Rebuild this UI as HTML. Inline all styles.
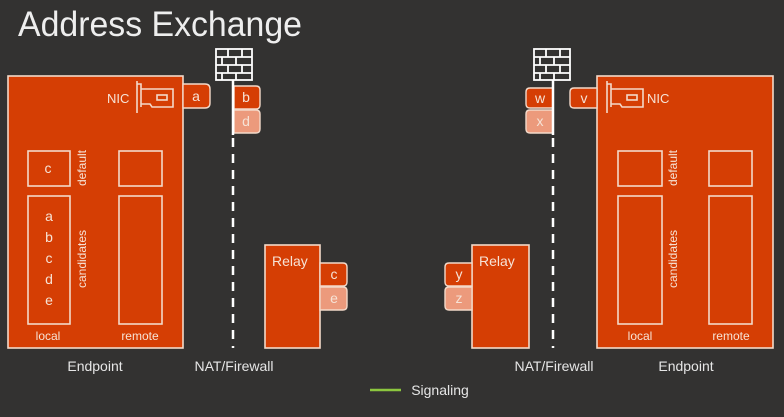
<!DOCTYPE html>
<html><head><meta charset="utf-8"><style>
html,body{margin:0;padding:0;background:#333231;}
svg{display:block;font-family:"Liberation Sans",sans-serif;}
</style></head><body>
<svg width="784" height="417" viewBox="0 0 784 417" xmlns="http://www.w3.org/2000/svg">
<rect width="784" height="417" fill="#333231"/>
<text x="18" y="36" font-size="35" fill="#eeeeee" textLength="284" lengthAdjust="spacingAndGlyphs">Address Exchange</text>

<g stroke="#f3d9c9" stroke-width="1.6" fill="#d53e04">
<!-- left endpoint -->
<rect x="8" y="76" width="175" height="272"/>
<rect x="28" y="151" width="42" height="35"/>
<rect x="119" y="151" width="43" height="35"/>
<rect x="28" y="196" width="42" height="128"/>
<rect x="119" y="196" width="43" height="128"/>
<!-- right endpoint -->
<rect x="597" y="76" width="176" height="272"/>
<rect x="618" y="151" width="44" height="35"/>
<rect x="709" y="151" width="43" height="35"/>
<rect x="618" y="196" width="44" height="128"/>
<rect x="709" y="196" width="43" height="128"/>
<!-- relays -->
<rect x="265" y="245" width="55" height="103"/>
<rect x="472" y="245" width="57" height="103"/>
</g>

<!-- tags -->
<g stroke="#f3d9c9" stroke-width="1.4">
<path d="M183 84 H205 Q210 84 210 89 V103 Q210 108 205 108 H183 Z" fill="#d53e04"/>
<path d="M234 86 H256 Q260 86 260 90 V105 Q260 109 256 109 H234 Z" fill="#d53e04"/>
<path d="M234 110 H256 Q260 110 260 114 V129 Q260 133 256 133 H234 Z" fill="#ec9a7c"/>
<path d="M320 263 H343 Q347 263 347 267 V282 Q347 286 343 286 H320 Z" fill="#d53e04"/>
<path d="M320 287 H343 Q347 287 347 291 V306 Q347 310 343 310 H320 Z" fill="#ec9a7c"/>
<path d="M553 88 H530 Q526 88 526 92 V104 Q526 108 530 108 H553 Z" fill="#d53e04"/>
<path d="M553 110 H530 Q526 110 526 114 V129 Q526 133 530 133 H553 Z" fill="#ec9a7c"/>
<path d="M597 88 H574 Q570 88 570 92 V104 Q570 108 574 108 H597 Z" fill="#d53e04"/>
<path d="M472 263 H449 Q445 263 445 267 V282 Q445 286 449 286 H472 Z" fill="#d53e04"/>
<path d="M472 287 H449 Q445 287 445 291 V306 Q445 310 449 310 H472 Z" fill="#ec9a7c"/>
</g>

<!-- NAT lines -->
<g stroke="#ffffff" stroke-width="2.5">
<line x1="233" y1="80" x2="233" y2="135"/>
<line x1="233" y1="138" x2="233" y2="348" stroke-dasharray="9,7"/>
<line x1="553" y1="80" x2="553" y2="135"/>
<line x1="553" y1="138" x2="553" y2="348" stroke-dasharray="9,7"/>
</g>

<!-- firewalls -->
<g stroke="#ffffff" stroke-width="1.8" fill="none">
<g transform="translate(216,49)">
<rect x="0" y="0" width="36" height="31"/>
<line x1="0" y1="8" x2="36" y2="8"/><line x1="0" y1="16" x2="36" y2="16"/><line x1="0" y1="24" x2="36" y2="24"/>
<line x1="12" y1="0" x2="12" y2="8"/><line x1="26" y1="0" x2="26" y2="8"/>
<line x1="6" y1="8" x2="6" y2="16"/><line x1="20" y1="8" x2="20" y2="16"/>
<line x1="12" y1="16" x2="12" y2="24"/><line x1="26" y1="16" x2="26" y2="24"/>
<line x1="6" y1="24" x2="6" y2="31"/><line x1="20" y1="24" x2="20" y2="31"/>
</g>
<g transform="translate(534,49)">
<rect x="0" y="0" width="36" height="31"/>
<line x1="0" y1="8" x2="36" y2="8"/><line x1="0" y1="16" x2="36" y2="16"/><line x1="0" y1="24" x2="36" y2="24"/>
<line x1="12" y1="0" x2="12" y2="8"/><line x1="26" y1="0" x2="26" y2="8"/>
<line x1="6" y1="8" x2="6" y2="16"/><line x1="20" y1="8" x2="20" y2="16"/>
<line x1="12" y1="16" x2="12" y2="24"/><line x1="26" y1="16" x2="26" y2="24"/>
<line x1="6" y1="24" x2="6" y2="31"/><line x1="20" y1="24" x2="20" y2="31"/>
</g>
</g>

<!-- NIC cards -->
<g stroke="#f3d9c9" stroke-width="1.6" fill="none">
<path d="M137 81 V113 M137 84 H141 V107 M141 89 H173 V107 H152 L150 104 H141"/>
<rect x="157" y="95" width="10" height="5"/>
<path d="M607 81 V113 M607 84 H611 V107 M611 89 H643 V107 H622 L620 104 H611"/>
<rect x="627" y="95" width="10" height="5"/>
</g>

<g fill="#f6e3d6" font-size="13">
<text x="107" y="103">NIC</text>
<text x="647" y="103">NIC</text>
<text x="196" y="101" text-anchor="middle" font-size="14">a</text>
<text x="246" y="102" text-anchor="middle" font-size="14">b</text>
<text x="246" y="126" text-anchor="middle" font-size="14">d</text>
<text x="540" y="103" text-anchor="middle" font-size="14">w</text>
<text x="540" y="126" text-anchor="middle" font-size="14">x</text>
<text x="584" y="103" text-anchor="middle" font-size="14">v</text>
<text x="334" y="279" text-anchor="middle" font-size="14">c</text>
<text x="334" y="303" text-anchor="middle" font-size="14">e</text>
<text x="459" y="279" text-anchor="middle" font-size="14">y</text>
<text x="459" y="303" text-anchor="middle" font-size="14">z</text>
<text x="48" y="173" text-anchor="middle" font-size="14">c</text>
<text x="49" y="221" text-anchor="middle" font-size="14">a</text>
<text x="49" y="242" text-anchor="middle" font-size="14">b</text>
<text x="49" y="263" text-anchor="middle" font-size="14">c</text>
<text x="49" y="284" text-anchor="middle" font-size="14">d</text>
<text x="49" y="305" text-anchor="middle" font-size="14">e</text>
<text x="48" y="340" text-anchor="middle" font-size="12">local</text>
<text x="140" y="340" text-anchor="middle" font-size="12">remote</text>
<text x="640" y="340" text-anchor="middle" font-size="12">local</text>
<text x="731" y="340" text-anchor="middle" font-size="12">remote</text>
<text x="272" y="266" font-size="14">Relay</text>
<text x="479" y="266" font-size="14">Relay</text>
<text transform="translate(86,168) rotate(-90)" text-anchor="middle" font-size="12">default</text>
<text transform="translate(86,259) rotate(-90)" text-anchor="middle" font-size="12">candidates</text>
<text transform="translate(677,168) rotate(-90)" text-anchor="middle" font-size="12">default</text>
<text transform="translate(677,259) rotate(-90)" text-anchor="middle" font-size="12">candidates</text>
</g>

<g fill="#e6e6e6" font-size="14" text-anchor="middle">
<text x="95" y="371">Endpoint</text>
<text x="234" y="371">NAT/Firewall</text>
<text x="554" y="371">NAT/Firewall</text>
<text x="686" y="371">Endpoint</text>
<text x="440" y="395">Signaling</text>
</g>
<line x1="370" y1="390" x2="401" y2="390" stroke="#8cc63f" stroke-width="2.5"/>
</svg>
</body></html>
